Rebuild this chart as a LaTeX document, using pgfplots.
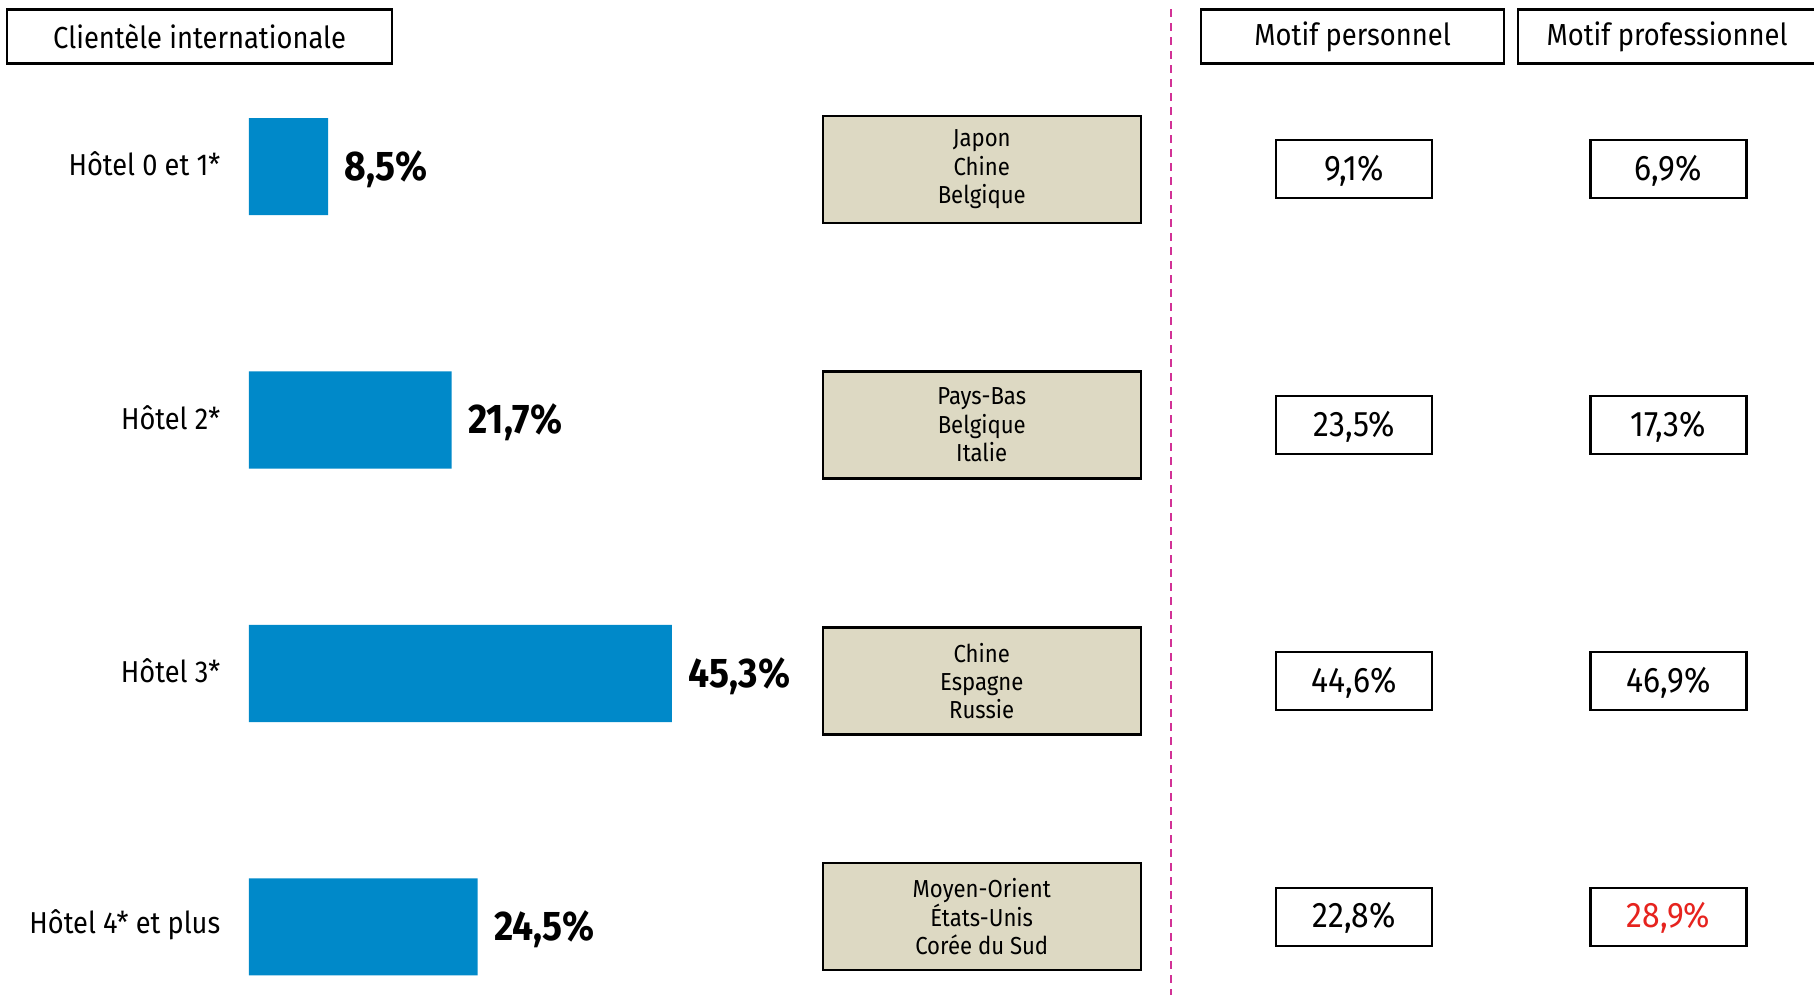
\documentclass[border=0pt]{standalone}
\usepackage{fontspec}
\setmainfont{Fira Sans}[FakeStretch=0.9]
\usepackage{pgfplots}
\pgfplotsset{compat=1.18}

\definecolor{barblue}{RGB}{0,137,201}
\definecolor{beige}{RGB}{221,217,195}
\definecolor{sepline}{RGB}{210,50,150}
\definecolor{hotred}{RGB}{230,35,30}

\tikzset{
  box/.style={draw=black, line width=0.65pt, inner sep=0pt, align=center},
  rowlab/.style={anchor=east, inner sep=0pt, font=\fontsize{8.6}{10}\selectfont},
  ctry/.style={box, fill=beige, minimum width=3.18cm, minimum height=1.07cm, font=\fontsize{7.0}{8.1}\selectfont},
  head/.style={box, minimum height=0.54cm, font=\fontsize{8.65}{10}\selectfont},
}
\pgfplotsset{
  valbox/.style={only marks, mark=none, point meta=explicit,
    nodes near coords={\pgfmathprintnumber[fixed,fixed zerofill,precision=1,use comma]{\pgfplotspointmeta}\%},
    nodes near coords align={center},
    every node near coord/.append style={box, minimum width=1.56cm, minimum height=0.58cm,
      font=\fontsize{10.1}{12}\selectfont, text depth=0.03cm}},
}

% x in percent (bar scale), y in row index; picture is 1814 x 995 px at 0.01cm/px
\begin{document}
\begin{tikzpicture}
\begin{axis}[
  scale only axis, width=18.14cm, height=9.95cm,
  xmin=-26.64, xmax=167.58,
  ymin=-0.6575, ymax=3.269, y dir=reverse,
  axis lines=none, clip=false,
  /pgf/number format/assume math mode=true,
]
\coordinate (bl) at (rel axis cs:0,0);
\coordinate (tr) at (rel axis cs:1,1);

% bars
\addplot[xbar, bar width=0.972cm, fill=barblue, draw=none,
  point meta=x,
  nodes near coords={\pgfmathprintnumber[fixed,fixed zerofill,precision=1,use comma]{\pgfplotspointmeta}\%},
  every node near coord/.append style={font=\fontsize{11.8}{14}\selectfont\bfseries, inner sep=0pt, xshift=0.16cm, yshift=-0.025cm, text=black}]
  coordinates {(8.5,0) (21.7,1) (45.3,2) (24.5,3)};

% motif personnel
\addplot[valbox] coordinates {(118.36,0.01) [9.1] (118.36,1.02) [23.5] (118.36,2.03) [44.6] (118.36,2.96) [22.8]};
% motif professionnel
\addplot[valbox] coordinates {(151.99,0.01) [6.9] (151.99,1.02) [17.3] (151.99,2.03) [46.9]};
\addplot[valbox, every node near coord/.append style={text=hotred}] coordinates {(151.99,2.96) [28.9]};

% row labels
\node[rowlab] at (axis cs:-2.98,-0.01) {Hôtel 0 et 1*};
\node[rowlab] at (axis cs:-2.98,0.99) {Hôtel 2*};
\node[rowlab] at (axis cs:-2.98,1.99) {Hôtel 3*};
\node[rowlab] at (axis cs:-2.98,2.99) {Hôtel 4* et plus};

% country boxes
\node[ctry] at (axis cs:78.47,0.01) {Japon\\Chine\\Belgique};
\node[ctry] at (axis cs:78.47,1.02) {Pays-Bas\\Belgique\\Italie};
\node[ctry] at (axis cs:78.47,2.03) {Chine\\Espagne\\Russie};
\node[ctry] at (axis cs:78.47,2.96) {Moyen-Orient\\États-Unis\\Corée du Sud};

% headers
\node[head, minimum width=3.85cm] at (axis cs:-5.27,-0.5138) {Clientèle internationale};
\node[head, minimum width=3.03cm] at (axis cs:118.18,-0.5138) {Motif personnel};
\node[head, minimum width=2.98cm] at (axis cs:151.84,-0.5138) {Motif professionnel};

% separator
\draw[sepline, line width=0.7pt, dash pattern=on 0.08cm off 0.06cm] (axis cs:98.74,-0.621) -- (axis cs:98.74,3.269);
\end{axis}
\pgfresetboundingbox
\path (bl) rectangle (tr);
\end{tikzpicture}
\end{document}
